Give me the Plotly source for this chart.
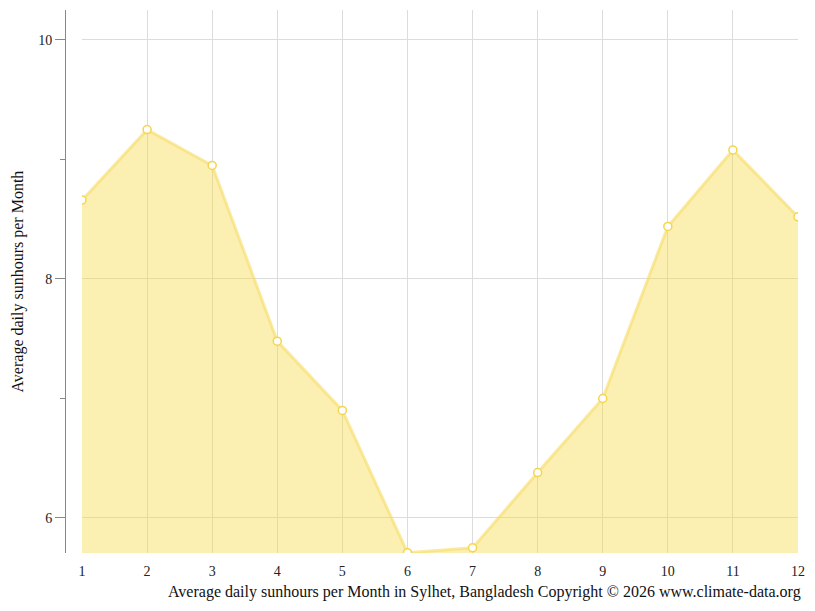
import plotly.graph_objects as go

months = [1, 2, 3, 4, 5, 6, 7, 8, 9, 10, 11, 12]
sunhours = [8.66, 9.25, 8.95, 7.48, 6.90, 5.71, 5.75, 6.38, 7.00, 8.44, 9.08, 8.52]

W, H = 815, 611
ml, mr, mt, mb = 65, 17, 10, 58
pw = W - ml - mr
ph = H - mt - mb

fig = go.Figure()
fig.add_trace(go.Scatter(
    x=months, y=sunhours, mode="lines+markers",
    fill="tozeroy", fillcolor="rgba(245,215,60,0.4)",
    line=dict(color="rgba(247,220,100,0.6)", width=3),
    marker=dict(size=8, color="white", line=dict(color="#f5d54a", width=1.5)),
    hoverinfo="x+y", showlegend=False,
))

font = "Liberation Serif, Times New Roman, serif"
fig.update_layout(
    width=W, height=H,
    margin=dict(l=ml, r=mr, t=mt, b=mb),
    paper_bgcolor="white", plot_bgcolor="white",
    font=dict(family=font, size=14, color="#222"),
    xaxis=dict(
        domain=[17 / pw, 1], range=[1, 12],
        tickvals=months, ticks="", showline=False, zeroline=False,
        showgrid=True, gridcolor="#dcdcdc", gridwidth=1,
        ticklabelstandoff=8,
        tickfont=dict(family=font, size=14, color="#222"),
    ),
    yaxis=dict(
        anchor="free", position=0, range=[5.707, 10.251],
        tickvals=[6, 8, 10], ticks="outside", ticklen=10, tickcolor="#888",
        showline=True, linecolor="#888", linewidth=1,
        zeroline=False, showgrid=True, gridcolor="#dcdcdc", gridwidth=1,
        minor=dict(tickvals=[7, 9], ticks="outside", ticklen=5, tickcolor="#888", showgrid=False),
        tickfont=dict(family=font, size=14, color="#222"),
    ),
    annotations=[
        dict(text="Average daily sunhours per Month in Sylhet, Bangladesh Copyright © 2026 www.climate-data.org",
             xref="paper", yref="paper", x=(803 - ml) / pw, y=-(592 - (mt + ph)) / ph,
             xanchor="right", yanchor="middle", showarrow=False,
             font=dict(family=font, size=16, color="#111")),
        dict(text="Average daily sunhours per Month",
             xref="paper", yref="paper", x=(17 - ml) / pw, y=0.5, textangle=-90,
             xanchor="center", yanchor="middle", showarrow=False,
             font=dict(family=font, size=16, color="#111")),
    ],
)

fig.write_html("out.html", config={"displayModeBar": False},
               post_script="document.body.style.margin='0';")
